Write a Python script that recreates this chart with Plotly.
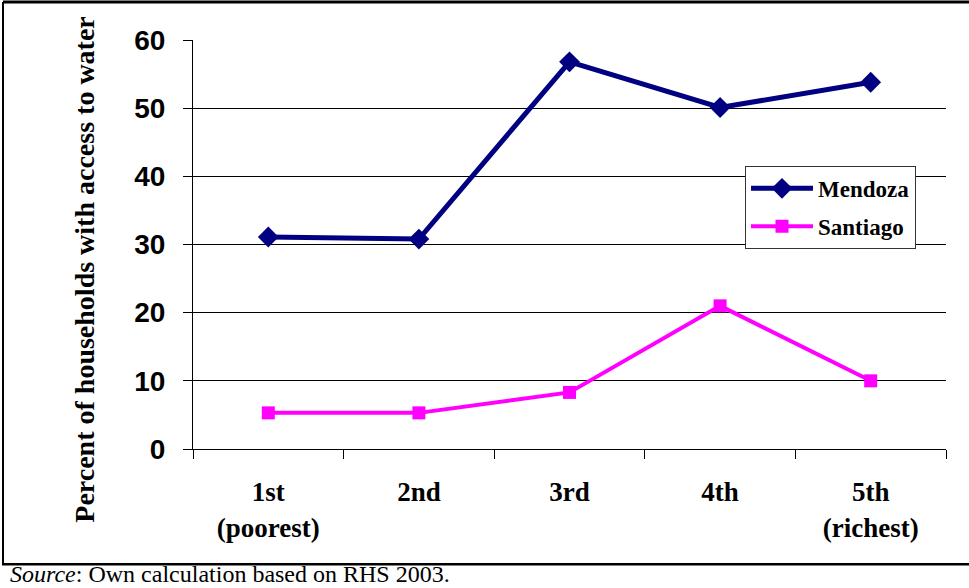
import plotly.graph_objects as go

# Income quintiles and share of households with water access (%)
quintiles = ["1st<br>(poorest)", "2nd", "3rd", "4th", "5th<br>(richest)"]
mendoza = [31.1, 30.8, 56.8, 50.1, 53.8]
santiago = [5.3, 5.3, 8.3, 21.0, 10.0]
y_ticks = [0, 10, 20, 30, 40, 50, 60]

serif = "Liberation Serif, Times New Roman, serif"
sans = "Liberation Sans, Arial, sans-serif"

# plot area in pixels: x 193..946, y 40..449.5
L, R, T, B = 193, 946, 40, 449.5


def px(x):
    return (x - L) / (R - L)


def py(y):
    return (B - y) / (B - T)


fig = go.Figure()
fig.add_trace(go.Scatter(
    x=quintiles, y=mendoza, name="Mendoza", mode="lines+markers",
    line=dict(color="#000080", width=5),
    marker=dict(symbol="diamond", size=16, color="#000080"),
    legendgroup="m",
))
fig.add_trace(go.Scatter(
    x=quintiles, y=santiago, name="Santiago", mode="lines+markers",
    line=dict(color="#FF00FF", width=4),
    marker=dict(symbol="square", size=13, color="#FF00FF"),
    legendgroup="s",
))

fig.update_layout(
    width=969, height=588,
    margin=dict(l=L, r=969 - R, t=T, b=588 - B),
    paper_bgcolor="white", plot_bgcolor="white",
    showlegend=True,
    legend=dict(
        x=px(745), y=py(166), xanchor="left", yanchor="top",
        bgcolor="white", bordercolor="#333333", borderwidth=1,
        font=dict(family=serif, size=23, color="black", weight="bold"),
        traceorder="grouped", tracegroupgap=5, itemwidth=62,
    ),
    xaxis=dict(
        type="category", tickson="boundaries", range=[-0.5, 4.5],
        automargin=False,
        showline=True, linecolor="black", linewidth=1,
        ticks="outside", ticklen=9, tickcolor="black",
        showgrid=False, zeroline=False,
        tickfont=dict(family=serif, size=27, color="black", weight="bold"),
        ticklabelstandoff=19,
    ),
    yaxis=dict(
        range=[0, 60], tickvals=y_ticks, automargin=False,
        showline=True, linecolor="black", linewidth=1,
        ticks="outside", ticklen=9, tickcolor="black",
        showgrid=True, gridcolor="black", gridwidth=1, zeroline=False,
        tickfont=dict(family=sans, size=28, color="black", weight="bold"),
        ticklabelstandoff=12,
    ),
    shapes=[
        dict(type="line", xref="paper", yref="paper", x0=px(3), x1=px(975),
             y0=py(2), y1=py(2), line=dict(color="black", width=3)),
        dict(type="line", xref="paper", yref="paper", x0=px(3), x1=px(3),
             y0=py(2), y1=py(565), line=dict(color="black", width=2)),
        dict(type="line", xref="paper", yref="paper", x0=px(2), x1=px(975),
             y0=py(565), y1=py(565), line=dict(color="black", width=2.5)),
    ],
    annotations=[
        dict(
            text="Percent of households with access to water",
            xref="paper", yref="paper", x=px(85), y=py(270),
            xanchor="center", yanchor="middle", textangle=-90, showarrow=False,
            font=dict(family=serif, size=28, color="black", weight="bold"),
        ),
        dict(
            text="<i>Source</i>: Own calculation based on RHS 2003.",
            xref="paper", yref="paper", x=px(8), y=py(575),
            xanchor="left", yanchor="middle", showarrow=False,
            font=dict(family=serif, size=24, color="black"),
        ),
    ],
)

fig.write_html("out.html")
